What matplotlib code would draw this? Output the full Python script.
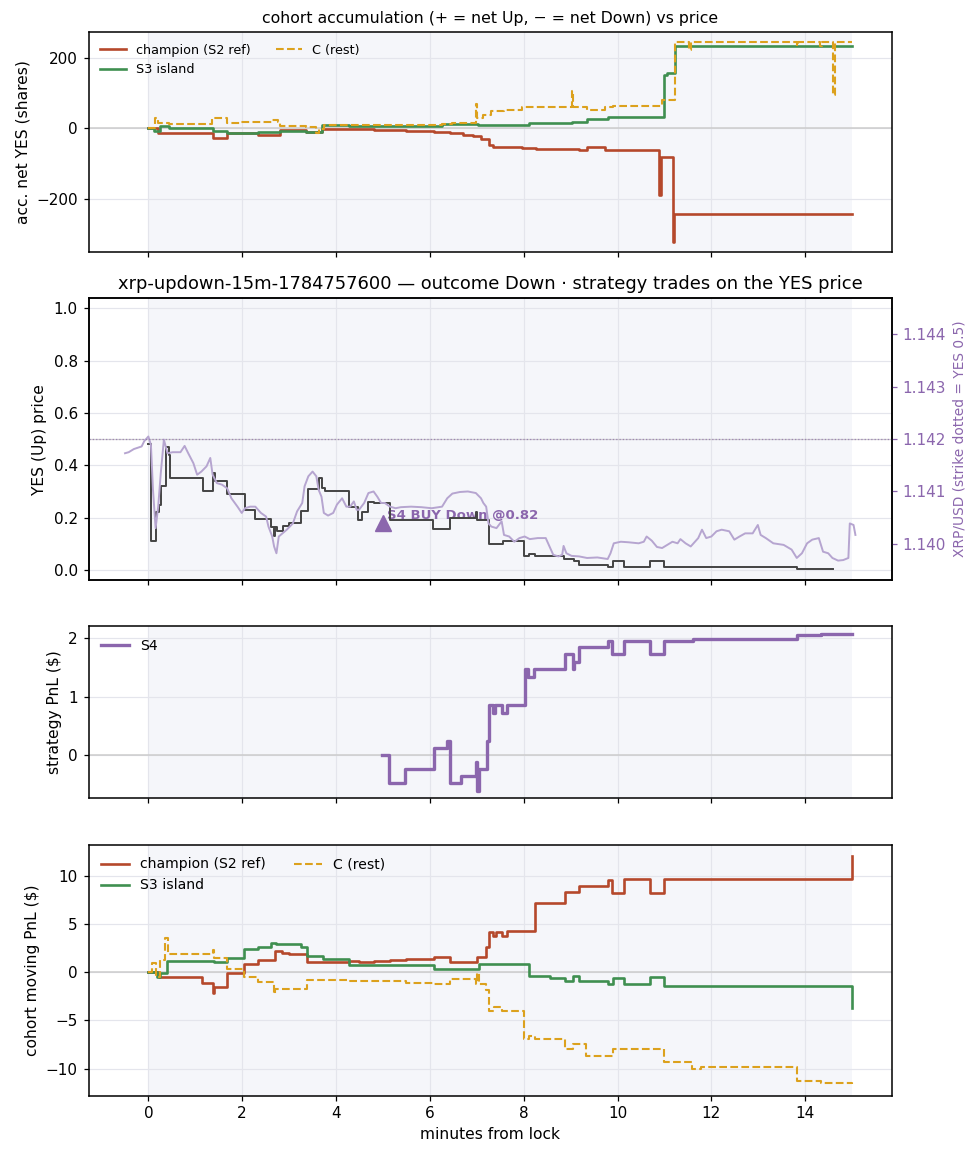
import matplotlib
matplotlib.use("Agg")
import matplotlib.pyplot as plt

RED = "#b5482b"
GREEN = "#3f8f50"
ORANGE = "#dca11d"
PURPLE = "#8b66ad"
PURPLE_LIGHT = "#b6a5d0"

# --- cohort accumulation (shares) ---
ch_acc_t = [0, 0.21, 1.38, 1.67, 2.34, 2.80, 3.36, 3.71, 4.82, 5.49, 6.09, 6.42, 6.70, 6.92,
            7.09, 7.25, 7.34, 7.97, 8.27, 9.18, 9.35, 9.74, 10.89, 10.92, 11.18, 11.21, 15.0]
ch_acc = [0, -14, -28, -14, -20, -5, -11, -3, -5, -8, -11, -14, -19, -23,
          -31, -47, -52, -56, -59, -63, -54, -61, -190, -82, -322, -243, -243]

s3_acc_t = [0, 0.13, 0.24, 0.43, 1.38, 1.67, 2.34, 2.80, 3.36, 3.71, 4.27, 6.26, 7.03, 8.11,
            9.02, 9.35, 9.79, 11.00, 11.06, 11.23, 15.0]
s3_acc = [0, -7, 7, 1, -8, -15, -12, -8, -10, 9, 7, 11, 8, 16,
          19, 25, 33, 150, 158, 232, 232]

c_acc_t = [0, 0.15, 0.20, 0.43, 1.35, 1.67, 1.95, 2.63, 2.77, 2.80, 3.36, 3.57, 3.64, 3.74,
           4.49, 6.26, 6.48, 6.98, 7.01, 7.14, 7.31, 7.58, 7.97, 9.02, 9.05, 9.35,
           9.74, 9.90, 10.95, 11.23, 11.53, 11.56, 13.82, 13.85, 14.32, 14.35, 14.59, 14.63, 15.0]
c_acc = [0, 28, 14, 12, 30, 16, 19, 23, 19, 7, 3, -14, -3, 9,
         8, 11, 16, 70, 28, 38, 50, 53, 59, 105, 59, 53,
         59, 64, 80, 244, 222, 244, 234, 244, 234, 244, 94, 244, 244]

# --- YES price (steps) ---
yes_t = [0, 0.055, 0.166, 0.22, 0.276, 0.386, 0.43, 0.464, 1.159, 1.38, 1.42, 1.68, 2.06,
         2.28, 2.62, 2.67, 2.70, 2.75, 2.86, 3.00, 3.26, 3.41, 3.64, 3.70, 3.77, 4.27,
         4.47, 4.55, 4.69, 4.80, 5.15, 6.06, 6.42, 6.98, 7.01, 7.25, 7.56, 8.00, 8.11,
         8.25, 8.85, 9.07, 9.18, 9.79, 9.90, 10.14, 10.70, 10.98, 13.82, 14.6]
yes_p = [0.48, 0.11, 0.22, 0.25, 0.32, 0.47, 0.44, 0.35, 0.30, 0.37, 0.34, 0.29, 0.23,
         0.195, 0.166, 0.13, 0.166, 0.15, 0.17, 0.18, 0.226, 0.31, 0.35, 0.315, 0.30, 0.24,
         0.19, 0.22, 0.26, 0.255, 0.19, 0.157, 0.20, 0.22, 0.19, 0.10, 0.11, 0.055, 0.061,
         0.052, 0.042, 0.033, 0.02, 0.01, 0.033, 0.01, 0.033, 0.01, 0.003, 0.003]

# --- XRP/USD spot ---
strike = 1.142
xrp_t = [-0.497, -0.419, -0.309, -0.143, -0.088, 0.0, 0.055, 0.099, 0.155, 0.21,
         0.265, 0.331, 0.408, 0.519, 0.684, 0.773, 0.85, 0.96, 1.04, 1.13,
         1.24, 1.32, 1.37, 1.46, 1.57, 1.68, 1.77, 1.90, 1.99, 2.06,
         2.17, 2.28, 2.40, 2.51, 2.56, 2.64, 2.68, 2.73, 2.78, 2.86,
         2.95, 3.08, 3.17, 3.28, 3.33, 3.41, 3.50, 3.58, 3.63, 3.69,
         3.74, 3.83, 3.94, 4.02, 4.13, 4.22, 4.30, 4.38, 4.44, 4.49,
         4.60, 4.69, 4.80, 4.88, 4.96, 5.04, 5.15, 5.27, 5.38, 5.60,
         5.82, 6.04, 6.26, 6.37, 6.48, 6.64, 6.81, 6.98, 7.09, 7.14,
         7.20, 7.25, 7.31, 7.42, 7.53, 7.58, 7.69, 7.80, 7.91, 8.02,
         8.13, 8.30, 8.47, 8.52, 8.63, 8.74, 8.82, 8.85, 8.91, 9.02,
         9.18, 9.35, 9.57, 9.79, 9.85, 9.92, 10.07, 10.23, 10.45, 10.56,
         10.62, 10.73, 10.84, 10.95, 11.06, 11.17, 11.28, 11.34, 11.45, 11.56,
         11.72, 11.80, 11.89, 12.00, 12.11, 12.22, 12.38, 12.49, 12.60, 12.72,
         12.88, 12.99, 13.05, 13.16, 13.32, 13.54, 13.71, 13.82, 13.93, 14.04,
         14.15, 14.29, 14.38, 14.49, 14.58, 14.70, 14.81, 14.92, 14.95, 15.03,
         15.07]
xrp_px = [1.14173, 1.14175, 1.14181, 1.14186, 1.14196, 1.14205, 1.14189, 1.14103, 1.14030, 1.14071,
          1.14135, 1.14199, 1.14173, 1.14175, 1.14175, 1.14187, 1.14173, 1.14154, 1.14132, 1.14138,
          1.14148, 1.14164, 1.14132, 1.14116, 1.14113, 1.14106, 1.14087, 1.14071, 1.14059, 1.14068,
          1.14071, 1.14071, 1.14059, 1.14052, 1.14033, 1.14014, 1.13995, 1.13982, 1.14014, 1.14020,
          1.14027, 1.14039, 1.14062, 1.14078, 1.14110, 1.14129, 1.14138, 1.14129, 1.14103, 1.14090,
          1.14059, 1.14054, 1.14059, 1.14075, 1.14087, 1.14071, 1.14071, 1.14081, 1.14065, 1.14065,
          1.14078, 1.14097, 1.14100, 1.14090, 1.14078, 1.14078, 1.14071, 1.14068, 1.14070, 1.14071,
          1.14070, 1.14068, 1.14071, 1.14087, 1.14096, 1.14099, 1.14100, 1.14097, 1.14087, 1.14078,
          1.14071, 1.14039, 1.14033, 1.14030, 1.14043, 1.14017, 1.14014, 1.14004, 1.14011, 1.14014,
          1.14009, 1.14011, 1.14011, 1.14001, 1.13979, 1.13976, 1.13979, 1.13996, 1.13982, 1.13977,
          1.13976, 1.13973, 1.13974, 1.13971, 1.13982, 1.14001, 1.14004, 1.14003, 1.14001, 1.14004,
          1.14014, 1.14006, 1.13994, 1.13992, 1.13998, 1.14004, 1.14001, 1.14009, 1.14001, 1.13995,
          1.14011, 1.14027, 1.14011, 1.14014, 1.14024, 1.14027, 1.14024, 1.14008, 1.14014, 1.14020,
          1.14020, 1.14036, 1.14017, 1.14011, 1.14001, 1.13998, 1.13989, 1.13973, 1.13982, 1.14001,
          1.14008, 1.14011, 1.13985, 1.13982, 1.13973, 1.13968, 1.13969, 1.13973, 1.14039, 1.14036,
          1.14017]

trade_t = 5.0
trade_yes = 0.18
trade_label = "S4 BUY Down @0.82"

# --- strategy PnL ---
s4_t = [4.99, 5.08, 5.13, 5.46, 6.09, 6.37, 6.42, 6.66, 6.98, 7.01, 7.05, 7.22, 7.27,
        7.34, 7.38, 7.53, 7.64, 8.02, 8.09, 8.22, 8.89, 9.05, 9.07, 9.18, 9.79, 9.88,
        10.14, 10.70, 10.98, 11.61, 13.82, 14.34, 15.0]
s4_pnl = [0.0, 0.0, -0.48, -0.23, 0.13, 0.25, -0.48, -0.35, -0.11, -0.60, -0.24, 0.25, 0.86,
          0.72, 0.86, 0.73, 0.85, 1.47, 1.34, 1.47, 1.73, 1.47, 1.59, 1.84, 1.95, 1.72,
          1.95, 1.72, 1.95, 1.98, 2.06, 2.07, 2.07]

# --- cohort moving PnL ---
ch_pnl_t = [0, 0.22, 1.15, 1.37, 1.40, 1.68, 2.04, 2.34, 2.69, 2.84, 3.00, 3.39, 4.27,
            4.49, 4.82, 5.15, 5.49, 6.09, 6.42, 7.01, 7.20, 7.27, 7.34, 7.42, 7.53, 7.64,
            8.25, 8.89, 9.18, 9.79, 9.88, 10.14, 10.70, 10.98, 15.0]
ch_pnl = [0, -0.5, -1.1, -2.2, -1.5, -0.1, 0.8, 1.3, 2.2, 2.0, 1.9, 1.0, 1.2,
          1.0, 1.1, 1.25, 1.35, 1.6, 1.05, 1.55, 2.6, 4.2, 3.7, 4.2, 3.7, 4.3,
          7.2, 8.3, 8.9, 9.5, 8.2, 9.6, 8.2, 9.6, 12.0]

s3_pnl_t = [0, 0.19, 0.24, 0.39, 1.40, 1.68, 2.04, 2.34, 2.62, 2.73, 3.26, 3.39, 3.72,
            4.27, 6.09, 7.05, 8.11, 8.55, 8.89, 9.05, 9.18, 9.79, 9.90, 10.14, 10.70, 10.98, 15.0]
s3_pnl = [0, -0.5, -0.1, 1.2, 1.0, 1.5, 2.4, 2.65, 3.0, 2.9, 2.55, 1.7, 1.4,
          0.7, 0.3, 0.8, -0.4, -0.65, -0.95, -0.4, -0.9, -1.2, -0.65, -1.2, -0.55, -1.4, -3.7]

c_pnl_t = [0, 0.08, 0.16, 0.24, 0.35, 0.41, 1.37, 1.40, 1.68, 2.04, 2.34, 2.67, 2.70,
           3.39, 4.27, 5.49, 6.09, 6.42, 6.98, 7.01, 7.04, 7.20, 7.27, 7.36, 7.53, 8.00,
           8.11, 8.25, 8.89, 9.05, 9.33, 9.90, 10.98, 11.59, 11.78, 13.82, 14.34, 15.0]
c_pnl = [0, 0.9, -0.5, 1.25, 3.5, 1.9, 2.3, 1.5, 0.3, -0.5, -1.0, -2.3, -1.8,
         -0.85, -0.9, -1.1, -1.25, -0.75, -1.25, -0.1, -1.25, -1.9, -4.0, -3.6, -4.0, -6.9,
         -6.6, -6.9, -8.0, -7.4, -8.7, -8.0, -9.3, -10.0, -9.8, -11.25, -11.5, -11.6]


def style(ax):
    ax.axvspan(0, 15, color="#eef0f7", alpha=0.55, lw=0, zorder=0)
    ax.grid(color="#e4e5ec", lw=0.85, zorder=0)
    ax.set_axisbelow(True)
    ax.set_xticks(range(0, 15, 2))
    for s in ax.spines.values():
        s.set_linewidth(1.1)
    ax.tick_params(labelsize=11, width=0.9, length=3.85, pad=3.85)


fig = plt.figure(figsize=(9.78, 11.56), dpi=100)
L, W = 0.0905, 0.8215
ax1 = fig.add_axes([L, 0.7823, W, 0.1898])
ax2 = fig.add_axes([L, 0.4983, W, 0.2437], sharex=ax1)
ax3 = fig.add_axes([L, 0.3094, W, 0.1490], sharex=ax1)
ax4 = fig.add_axes([L, 0.0523, W, 0.2169], sharex=ax1)

# panel 1
style(ax1)
ax1.axhline(0, color="#cccccc", lw=1.1, zorder=1)
ax1.plot(ch_acc_t, ch_acc, drawstyle="steps-post", color=RED, lw=1.9, label="champion (S2 ref)")
ax1.plot(s3_acc_t, s3_acc, drawstyle="steps-post", color=GREEN, lw=1.9, label="S3 island")
ax1.plot(c_acc_t, c_acc, drawstyle="steps-post", color=ORANGE, lw=1.5, ls="--", label="C (rest)")
ax1.set_yticks([-200, 0, 200])
ax1.set_ylabel("acc. net YES (shares)", fontsize=11.2, labelpad=4.4)
ax1.set_title("cohort accumulation (+ = net Up, \u2212 = net Down) vs price", fontsize=11.3, pad=6.6)
ax1.legend(loc="upper left", ncol=2, fontsize=9.2, frameon=False)
ax1.tick_params(labelbottom=False)

# panel 2
style(ax2)
ax2.set_ylim(-0.038, 1.038)
ax2.axhline(0.5, color="#cccccc", lw=0.9, zorder=1)
ax2.plot(yes_t, yes_p, drawstyle="steps-post", color="#444444", lw=1.4)
ax2.plot([trade_t], [trade_yes], marker="^", ms=12, color=PURPLE, ls="none")
ax2.text(trade_t + 0.08, trade_yes + 0.027, trade_label, color=PURPLE, fontsize=9.5,
         fontweight="bold", va="center", ha="left", zorder=1.5)
ax2.set_ylabel("YES (Up) price", fontsize=11.2, labelpad=4.4)
ax2.set_title("xrp-updown-15m-1784757600 \u2014 outcome Down \u00b7 strategy trades on the YES price",
              fontsize=12.9, pad=6.6)
ax2.tick_params(labelbottom=False)
tw = ax2.twinx()
d = 0.00269
tw.set_ylim(strike - d, strike + d)
tw.plot(xrp_t, xrp_px, color=PURPLE_LIGHT, lw=1.4)
tw.axhline(strike, color=PURPLE, lw=0.9, ls=":", alpha=0.7)
tw.set_yticks([1.140, 1.141, 1.142, 1.143, 1.144])
tw.set_yticklabels(["1.140", "1.141", "1.142", "1.143", "1.144"])
tw.tick_params(colors=PURPLE, labelsize=11, width=0.9, length=3.85, pad=3.85)
tw.set_ylabel("XRP/USD (strike dotted = YES 0.5)", color=PURPLE, fontsize=9.9, labelpad=4.4)
for s in tw.spines.values():
    s.set_linewidth(1.1)

# panel 3
style(ax3)
ax3.axhline(0, color="#cccccc", lw=1.1, zorder=1)
ax3.plot(s4_t, s4_pnl, drawstyle="steps-post", color=PURPLE, lw=2.4, label="S4")
ax3.set_yticks([0, 1, 2])
ax3.set_ylabel("strategy PnL (\\$)", fontsize=11.2, labelpad=4.4)
ax3.legend(loc="upper left", fontsize=10.1, frameon=False)
ax3.tick_params(labelbottom=False)

# panel 4
style(ax4)
ax4.axhline(0, color="#cccccc", lw=1.1, zorder=1)
ax4.plot(ch_pnl_t, ch_pnl, drawstyle="steps-post", color=RED, lw=1.9, label="champion (S2 ref)")
ax4.plot(s3_pnl_t, s3_pnl, drawstyle="steps-post", color=GREEN, lw=1.9, label="S3 island")
ax4.plot(c_pnl_t, c_pnl, drawstyle="steps-post", color=ORANGE, lw=1.5, ls="--", label="C (rest)")
ax4.set_yticks([-10, -5, 0, 5, 10])
ax4.set_ylabel("cohort moving PnL (\\$)", fontsize=11.2, labelpad=4.4)
ax4.set_xlabel("minutes from lock", fontsize=11.2, labelpad=4.4)
ax4.legend(loc="upper left", ncol=2, fontsize=10.1, frameon=False)

fig.savefig("out.png", dpi=100)
